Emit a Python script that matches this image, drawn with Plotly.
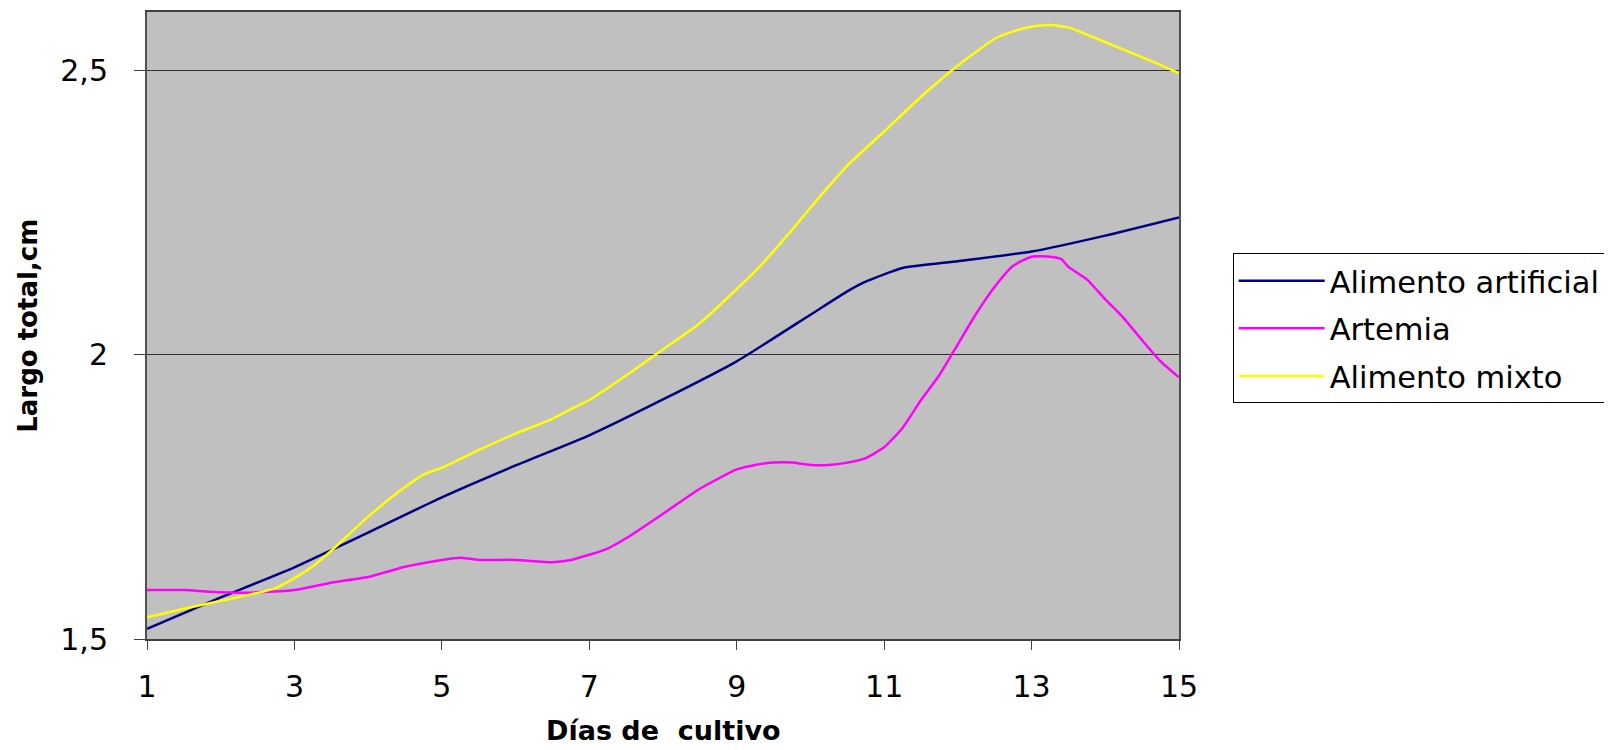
import plotly.graph_objects as go

# ---- data ----
days_artificial = [1, 2, 3, 4, 5, 6, 7, 8, 9, 10, 10.5, 10.75, 11.25, 12, 13, 14, 15]
largo_artificial = [1.518, 1.573, 1.626, 1.687, 1.749, 1.805, 1.858, 1.921, 1.988, 2.070,
                    2.111, 2.128, 2.152, 2.164, 2.181, 2.209, 2.241]

days_artemia = [1, 1.5, 2, 2.5, 3, 3.5, 4, 4.5, 5, 5.25, 5.5, 6, 6.5, 6.75, 7, 7.25, 7.5, 8,
                8.5, 9, 9.25, 9.5, 9.75, 10, 10.25, 10.5, 10.75, 11, 11.25, 11.5, 11.75, 12,
                12.25, 12.5, 12.75, 13, 13.25, 13.4, 13.5, 13.75, 14, 14.25, 14.5, 14.75, 15]
largo_artemia = [1.586, 1.586, 1.582, 1.582, 1.586, 1.599, 1.609, 1.627, 1.639, 1.643, 1.639,
                 1.639, 1.635, 1.639, 1.648, 1.659, 1.677, 1.720, 1.764, 1.798, 1.806, 1.810,
                 1.810, 1.806, 1.806, 1.810, 1.818, 1.837, 1.871, 1.920, 1.964, 2.018, 2.072,
                 2.119, 2.156, 2.172, 2.172, 2.168, 2.154, 2.132, 2.097, 2.064, 2.025, 1.988,
                 1.960]

days_mixto = [1, 1.5, 2, 2.5, 2.75, 3, 3.25, 3.5, 4, 4.5, 4.75, 5, 5.5, 6, 6.5, 6.75, 7, 7.5,
              8, 8.5, 9, 9.25, 9.75, 10, 10.5, 11, 11.5, 12, 12.5, 12.75, 13, 13.25, 13.5,
              14, 14.75, 15]
largo_mixto = [1.538, 1.553, 1.567, 1.581, 1.590, 1.607, 1.628, 1.655, 1.715, 1.767, 1.789,
               1.801, 1.832, 1.861, 1.887, 1.904, 1.920, 1.963, 2.009, 2.055, 2.115, 2.146,
               2.219, 2.258, 2.332, 2.392, 2.453, 2.508, 2.555, 2.568, 2.576, 2.579, 2.575,
               2.549, 2.509, 2.494]

series_names = ["Alimento artificial", "Artemia", "Alimento mixto"]
series_colors = ["#000080", "#FF00FF", "#FFFF00"]

x_tickvals = [1, 3, 5, 7, 9, 11, 13, 15]
y_tickvals = [1.5, 2.0, 2.5]
y_ticktext = ["1,5", "2", "2,5"]

x_title = "Días de  cultivo"
y_title = "Largo total,cm"

FONT = "DejaVu Sans"

fig = go.Figure()
for i, (xs, ys) in enumerate([(days_artificial, largo_artificial),
                              (days_artemia, largo_artemia),
                              (days_mixto, largo_mixto)]):
    fig.add_trace(go.Scatter(
        x=xs, y=ys, mode="lines", name=series_names[i], legendgroup=series_names[i],
        line=dict(color=series_colors[i], width=2.5, shape="spline", smoothing=0.5),
    ))

fig.update_layout(
    width=1604, height=742,
    margin=dict(l=139, r=433, t=4, b=111),
    paper_bgcolor="white",
    plot_bgcolor="#C0C0C0",
    font=dict(family=FONT, size=30, color="black"),
    showlegend=True,
    legend=dict(
        x=1.052, y=0.615, xanchor="left", yanchor="top",
        bgcolor="white", bordercolor="black", borderwidth=1,
        font=dict(family=FONT, size=30.5, color="black"),
        itemwidth=86, tracegroupgap=5, traceorder="grouped",
    ),
    xaxis=dict(
        range=[1, 15], tickvals=x_tickvals, ticks="outside", ticklen=9,
        tickcolor="#404040", showgrid=False, zeroline=False,
        showline=True, linecolor="#404040", linewidth=2, mirror=True,
        tickfont=dict(family=FONT, size=30), automargin=False,
        ticklabelstandoff=11,
    ),
    yaxis=dict(
        range=[1.5, 2.602], tickvals=y_tickvals, ticktext=y_ticktext, ticks="outside",
        ticklen=11, tickcolor="#404040", showgrid=True, gridcolor="#303030", gridwidth=1,
        zeroline=False, showline=True, linecolor="#505050", linewidth=2, mirror=True,
        tickfont=dict(family=FONT, size=30), automargin=False,
        ticklabelstandoff=20,
    ),
    annotations=[
        dict(text="<b>" + x_title + "</b>", xref="paper", yref="paper", x=0.5, y=-0.146,
             xanchor="center", yanchor="middle", showarrow=False,
             font=dict(family=FONT, size=27, color="black")),
        dict(text="<b>" + y_title + "</b>", xref="paper", yref="paper", x=-0.116, y=0.5,
             xanchor="center", yanchor="middle", showarrow=False, textangle=-90,
             font=dict(family=FONT, size=26, color="black")),
    ],
)

fig.write_html("out.html")
